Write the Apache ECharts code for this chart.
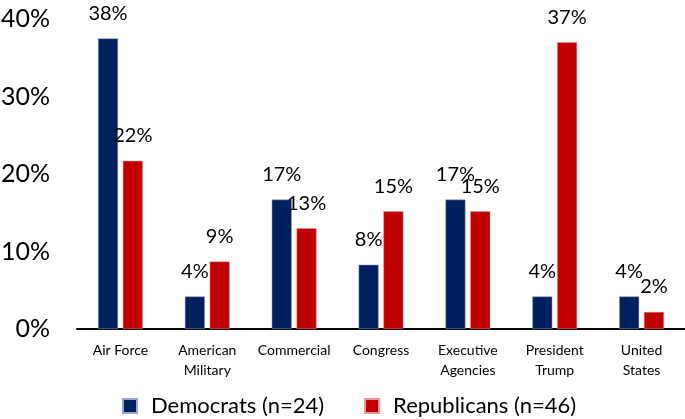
<!DOCTYPE html>
<html>
<head>
<meta charset="utf-8">
<script src="https://cdn.jsdelivr.net/npm/echarts@6/dist/echarts.min.js"></script>
<style>
html,body{margin:0;padding:0;background:#fff;}
#chart{width:685px;height:419px;}
</style>
</head>
<body>
<div id="chart"></div>
<script>
const categories = ['Air Force', 'American\nMilitary', 'Commercial', 'Congress', 'Executive\nAgencies', 'President\nTrump', 'United\nStates'];
const democrats = [37.5, 4.2, 16.7, 8.3, 16.7, 4.2, 4.2];
const republicans = [21.7, 8.7, 13.0, 15.2, 15.2, 37.0, 2.2];
const seriesNames = ['Democrats (n=24)', 'Republicans (n=46)'];
const yTicks = [0, 10, 20, 30, 40];

const FONT = 'Lato';
const chart = echarts.init(document.getElementById('chart'), null, {renderer: 'canvas'});
const labelCfg = {
  show: true,
  position: 'top',
  distance: 15,
  fontFamily: FONT,
  fontSize: 20,
  color: '#000',
  formatter: p => Math.round(p.value) + '%'
};
chart.setOption({
  animation: false,
  textStyle: {fontFamily: FONT},
  grid: {left: 77, right: 0, top: 19, bottom: 90, containLabel: false, outerBoundsMode: 'none'},
  legend: {
    bottom: -3,
    left: 117,
    itemWidth: 14,
    itemHeight: 14,
    itemGap: 40,
    icon: 'rect',
    textStyle: {fontFamily: FONT, fontSize: 22, color: '#000', padding: [0, 0, 0, 9]},
    data: seriesNames
  },
  xAxis: {
    type: 'category',
    data: categories,
    axisLine: {lineStyle: {color: '#000', width: 2}},
    axisTick: {show: false},
    axisLabel: {interval: 0, fontFamily: FONT, fontSize: 14, color: '#000', lineHeight: 20, margin: 11}
  },
  yAxis: {
    type: 'value',
    min: yTicks[0],
    max: yTicks[yTicks.length - 1],
    interval: 10,
    splitLine: {show: false},
    axisLine: {show: false},
    axisTick: {show: false},
    axisLabel: {fontFamily: FONT, fontSize: 25, color: '#000', margin: 27, formatter: v => v + '%'}
  },
  series: [
    {name: seriesNames[0], type: 'bar', data: democrats, barWidth: 20, barGap: '24%',
     itemStyle: {color: '#002060', borderColor: '#9aa6c8', borderWidth: 0.5}, label: labelCfg},
    {name: seriesNames[1], type: 'bar', data: republicans, barWidth: 20, barGap: '24%',
     itemStyle: {color: '#C00000', borderColor: '#e89a9a', borderWidth: 0.5}, label: labelCfg}
  ]
});
</script>
</body>
</html>
